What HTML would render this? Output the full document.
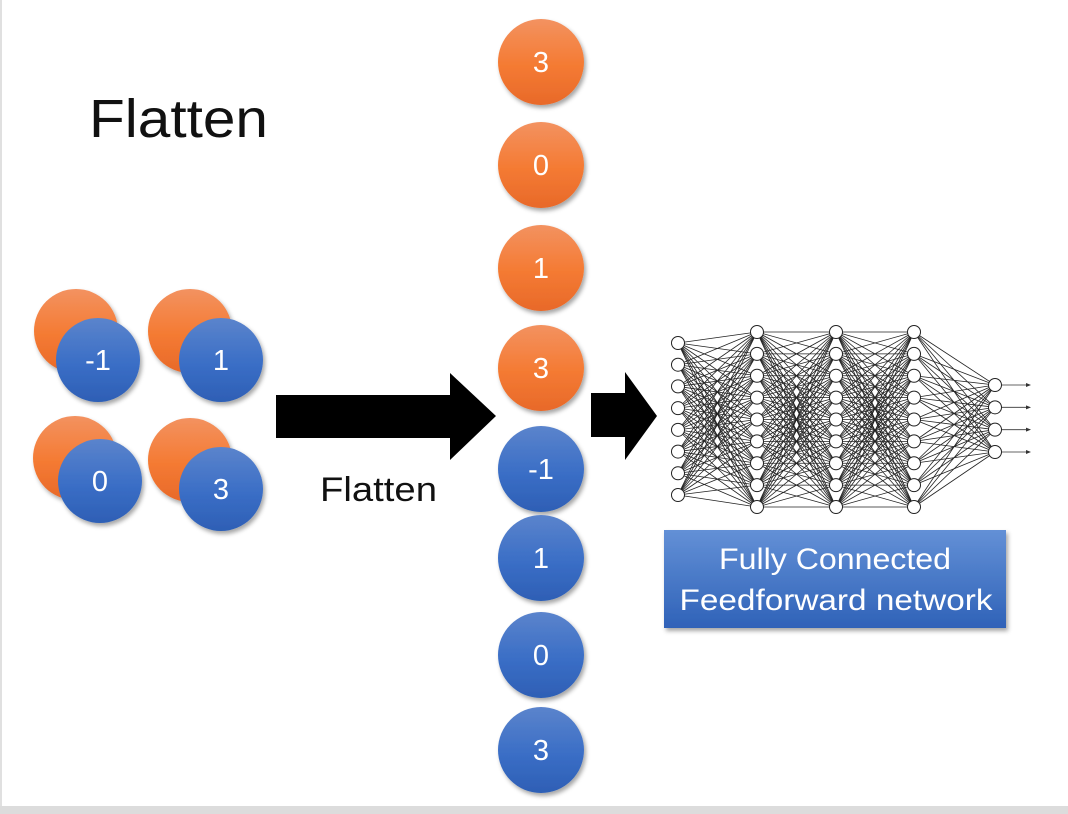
<!DOCTYPE html>
<html><head><meta charset="utf-8"><style>
html,body{margin:0;padding:0;background:#fff;}
svg{display:block;font-family:"Liberation Sans","DejaVu Sans",sans-serif;}
</style></head><body>
<svg id="s" width="1068" height="814" viewBox="0 0 1068 814" xmlns="http://www.w3.org/2000/svg">
<defs>
<linearGradient id="og" x1="0" y1="0" x2="0" y2="1"><stop offset="0" stop-color="#f39260"/><stop offset="0.55" stop-color="#f47a32"/><stop offset="1" stop-color="#e8692a"/></linearGradient>
<linearGradient id="bg" x1="0" y1="0" x2="0" y2="1"><stop offset="0" stop-color="#5b84cc"/><stop offset="0.55" stop-color="#3a6ec6"/><stop offset="1" stop-color="#2e5fb5"/></linearGradient>
<linearGradient id="box" x1="0" y1="0" x2="0" y2="1"><stop offset="0" stop-color="#6390d6"/><stop offset="1" stop-color="#2f62b8"/></linearGradient>
<filter id="sh" x="-20%" y="-20%" width="150%" height="150%"><feDropShadow dx="2" dy="3" stdDeviation="2" flood-color="#000" flood-opacity="0.35"/></filter>
</defs>
<rect x="0" y="806" width="1068" height="8" fill="#dcdcdc"/>
<rect x="0" y="0" width="2" height="806" fill="#e0e0e0"/>
<text x="89" y="137" font-size="54" fill="#111" textLength="179" lengthAdjust="spacingAndGlyphs">Flatten</text>
<g filter="url(#sh)" font-size="29" fill="#fff" text-anchor="middle">
<circle cx="76" cy="331" r="42" fill="url(#og)"/>
<circle cx="98" cy="360" r="42" fill="url(#bg)"/><text x="98" y="370">-1</text>
<circle cx="190" cy="331" r="42" fill="url(#og)"/>
<circle cx="221" cy="360" r="42" fill="url(#bg)"/><text x="221" y="370">1</text>
<circle cx="75" cy="458" r="42" fill="url(#og)"/>
<circle cx="100" cy="481" r="42" fill="url(#bg)"/><text x="100" y="491">0</text>
<circle cx="190" cy="460" r="42" fill="url(#og)"/>
<circle cx="221" cy="489" r="42" fill="url(#bg)"/><text x="221" y="499">3</text>
</g>
<polygon points="276,395 450,395 450,373 496,416 450,460 450,438 276,438" fill="#000"/>
<text x="320" y="501" font-size="34" fill="#111" textLength="117" lengthAdjust="spacingAndGlyphs">Flatten</text>
<g filter="url(#sh)" font-size="29" fill="#fff" text-anchor="middle">
<ellipse cx="541" cy="62" rx="43" ry="43" fill="url(#og)"/><text x="541" y="72">3</text>
<ellipse cx="541" cy="165" rx="43" ry="43" fill="url(#og)"/><text x="541" y="175">0</text>
<ellipse cx="541" cy="268" rx="43" ry="43" fill="url(#og)"/><text x="541" y="278">1</text>
<ellipse cx="541" cy="368" rx="43" ry="43" fill="url(#og)"/><text x="541" y="378">3</text>
<ellipse cx="541" cy="469" rx="43" ry="43" fill="url(#bg)"/><text x="541" y="479">-1</text>
<ellipse cx="541" cy="558" rx="43" ry="43" fill="url(#bg)"/><text x="541" y="568">1</text>
<ellipse cx="541" cy="655" rx="43" ry="43" fill="url(#bg)"/><text x="541" y="665">0</text>
<ellipse cx="541" cy="750" rx="43" ry="43" fill="url(#bg)"/><text x="541" y="760">3</text>
</g>
<polygon points="591,393 625,393 625,372 657,416 625,460 625,437 591,437" fill="#000"/>
<g id="net"></g>
<rect x="664" y="530" width="342" height="98" fill="url(#box)" filter="url(#sh)"/>
<text x="835" y="569" font-size="30" fill="#fff" text-anchor="middle" textLength="232" lengthAdjust="spacingAndGlyphs">Fully Connected</text>
<text x="836" y="610" font-size="30" fill="#fff" text-anchor="middle" textLength="313" lengthAdjust="spacingAndGlyphs">Feedforward network</text>
</svg>
<script>
(function(){
var g=document.getElementById("net");
function lay(x,n,y0,y1){var a=[];for(var i=0;i<n;i++)a.push([x,y0+(y1-y0)*i/(n-1)]);return a;}
var L=[lay(678,8,343,495),lay(757,9,332,507),lay(836,9,332,507),lay(914,9,332,507),lay(995,4,385,452)];
var h="";
for(var k=0;k<L.length-1;k++)for(var i=0;i<L[k].length;i++)for(var j=0;j<L[k+1].length;j++){
h+='<line x1="'+L[k][i][0]+'" y1="'+L[k][i][1]+'" x2="'+L[k+1][j][0]+'" y2="'+L[k+1][j][1]+'" stroke="#222" stroke-width="0.8"/>';}
L[4].forEach(function(p){h+='<line x1="'+p[0]+'" y1="'+p[1]+'" x2="1028" y2="'+p[1]+'" stroke="#333" stroke-width="0.8"/><polygon points="1026,'+(p[1]-2)+' 1031,'+p[1]+' 1026,'+(p[1]+2)+'" fill="#333"/>';});
L.forEach(function(l){l.forEach(function(p){h+='<circle cx="'+p[0]+'" cy="'+p[1]+'" r="6.5" fill="#fff" stroke="#222" stroke-width="1"/>';});});
g.innerHTML=h;
})();
</script>
</body></html>
